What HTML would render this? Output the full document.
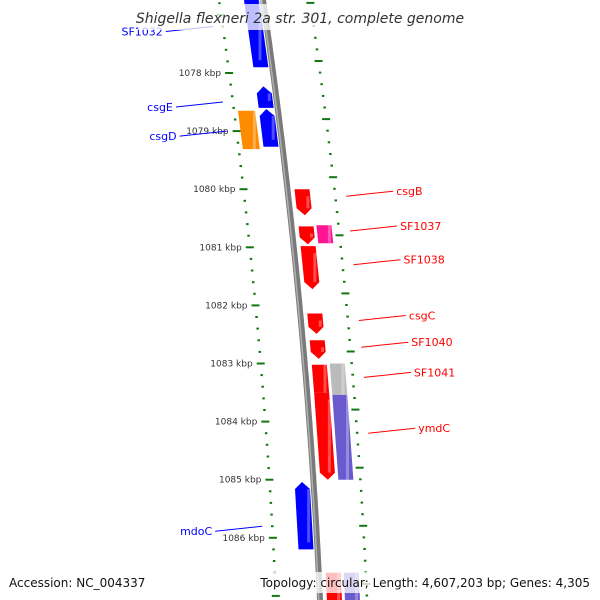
<!DOCTYPE html>
<html><head><meta charset="utf-8"><style>
html,body{margin:0;background:#fff;width:600px;height:600px;overflow:hidden}
svg{display:block;font-family:"DejaVu Sans","Liberation Sans",sans-serif;overflow:hidden}
</style></head><body>
<svg id="c" width="600" height="600" viewBox="0 0 600 600">
<g id="ticks"></g>
<path id="bb" fill="none" stroke="#7a7a7a" stroke-width="6"/>
<path id="bb2" fill="none" stroke="#b0b0b0" stroke-width="1.5"/>
<g id="feats"></g>
<g id="labels"></g>
<rect x="138" y="4" width="326" height="26" fill="#fff" fill-opacity="0.75"/>
<text x="300" y="23" text-anchor="middle" font-size="14" font-style="italic" fill="#333">Shigella flexneri 2a str. 301, complete genome</text>
<rect x="256" y="572" width="340" height="21" fill="#fff" fill-opacity="0.75"/>
<text x="9" y="587" font-size="12" fill="#111">Accession: NC_004337</text>
<text x="590" y="587" text-anchor="end" font-size="12" fill="#111">Topology: circular; Length: 4,607,203 bp; Genes: 4,305</text>
</svg>
<script>
// data
const featNames=["SF1032","csgE","csgD","orange-gene","csgB","SF1037","magenta-gene","SF1038","csgC","SF1040","SF1041","ymdC","grey-gene","purple-gene","mdoC","bottom-red","bottom-purple"];
const featStart=[1076.55,1078.23,1078.62,1078.65,1080.0,1080.64,1080.62,1080.98,1082.14,1082.6,1083.02,1083.5,1083.0,1083.54,1085.04,1086.6,1086.6];
const featEnd  =[1077.9,1078.6,1079.27,1079.31,1080.45,1080.95,1080.93,1081.72,1082.49,1082.92,1083.5,1085.0,1083.54,1085.0,1086.2,1087.2,1087.2];
const featStrand=[-1,-1,-1,-2,1,1,2,1,1,1,1,1,2,2,-1,1,2];
const featColor=["#0000ff","#0000ff","#0000ff","#ff8c00","#ff0000","#ff0000","#ff1493","#ff0000","#ff0000","#ff0000","#ff0000","#ff0000","#bbbbbb","#6a5acd","#0000ff","#ff0000","#6a5acd"];
const featArrow=[1,1,1,0,1,1,0,1,1,1,0,1,0,0,1,0,0];
const labelNames=["SF1032","csgE","csgD","csgB","SF1037","SF1038","csgC","SF1040","SF1041","ymdC","mdoC"];
const labelKbp=[1077.2,1078.5,1079.0,1080.12,1080.72,1081.3,1082.26,1082.72,1083.24,1084.2,1085.8];
const labelSide=[-1,-1,-1,1,1,1,1,1,1,1,-1];
const tickLabels=[1078,1079,1080,1081,1082,1083,1084,1085,1086];

const NS="http://www.w3.org/2000/svg";
const Y=k=>73+(k-1078)*58.1;
const BB=y=>263+0.145*y-8.33e-5*y*y;
function el(t,a,p){const e=document.createElementNS(NS,t);for(const k in a)e.setAttribute(k,a[k]);p.appendChild(e);return e;}
let d="";for(let y=0;y<=600;y+=5)d+=(y===0?"M":"L")+BB(y).toFixed(1)+" "+y+" ";
document.getElementById('bb').setAttribute('d',d);
const d2=d.replace(/([\d.]+) (-?\d+)/g,(m,x,y)=>(+x-1.3).toFixed(1)+" "+y);
document.getElementById('bb2').setAttribute('d',d2);
const tg=document.getElementById('ticks');
for(let i=-15;i<=55;i++){
  const k=1078+i*0.2;const major=i%5===0;
  [[-44,0],[47,-12]].forEach(([off,sh],j)=>{
    const y=Y(k)+sh;if(y<0||y>599)return;
    const x=BB(y)+off;const L=major?8:2.5;
    const t=el('line',{x1:(x-L/2).toFixed(1),y1:y.toFixed(1),x2:(x+L/2).toFixed(1),y2:y.toFixed(1),stroke:"#117711","stroke-width":2},tg);
    
    
  });
}
tickLabels.forEach(k=>{
  const y=Y(k);
  const t=el('text',{x:(BB(y)-52).toFixed(1),y:(y+3).toFixed(1),'text-anchor':'end','font-size':9,fill:"#333"},tg);
  t.textContent=k+" kbp";
  
  
});
const fg=document.getElementById('feats');
featNames.forEach((n,i)=>{
  const s=featStrand[i];
  let o1,o2;
  if(s===1){o1=7;o2=22}else if(s===2){o1=25;o2=40}else if(s===-1){o1=-19;o2=-4}else{o1=-40;o2=-23}
  let y1=Y(featStart[i]),y2=Y(featEnd[i]);
  const pts=[];const P=(o,y)=>pts.push((BB(y)+o).toFixed(1)+","+y.toFixed(1));
  const a=featArrow[i]?7:0;
  if(s>0){P(o1,y1);P(o2,y1);P(o2,y2-a);P((o1+o2)/2,y2);P(o1,y2-a);}
  else{P(o1,y1+a);P((o1+o2)/2,y1);P(o2,y1+a);P(o2,y2);P(o1,y2);}
  const p=el('polygon',{points:pts.join(" "),fill:featColor[i]},fg);
  
  
  const ym=(y1+y2)/2;
  const hl=el('line',{x1:(BB(ym)+o2-3).toFixed(1),y1:(y1+a).toFixed(1),x2:(BB(ym)+o2-3).toFixed(1),y2:(y2-a).toFixed(1),stroke:"#fff","stroke-opacity":0.3,"stroke-width":3},fg);
  
  
});
const lg=document.getElementById('labels');
labelNames.forEach((n,i)=>{
  const y=Y(labelKbp[i]);const side=labelSide[i];
  const col=side<0?"#0000ff":"#ff0000";
  const x0=BB(y)+side*(side<0?54:58), x1=x0+side*47, yl=y-side*5;
  const l=el('line',{x1:x0.toFixed(1),y1:y.toFixed(1),x2:x1.toFixed(1),y2:yl.toFixed(1),stroke:col,"stroke-width":1},lg);
  
  
  const t=el('text',{x:(x1+side*3).toFixed(1),y:(yl+4).toFixed(1),'text-anchor':side<0?'end':'start','font-size':11,fill:col},lg);
  t.textContent=n;
  
  
});
</script>
</body></html>
